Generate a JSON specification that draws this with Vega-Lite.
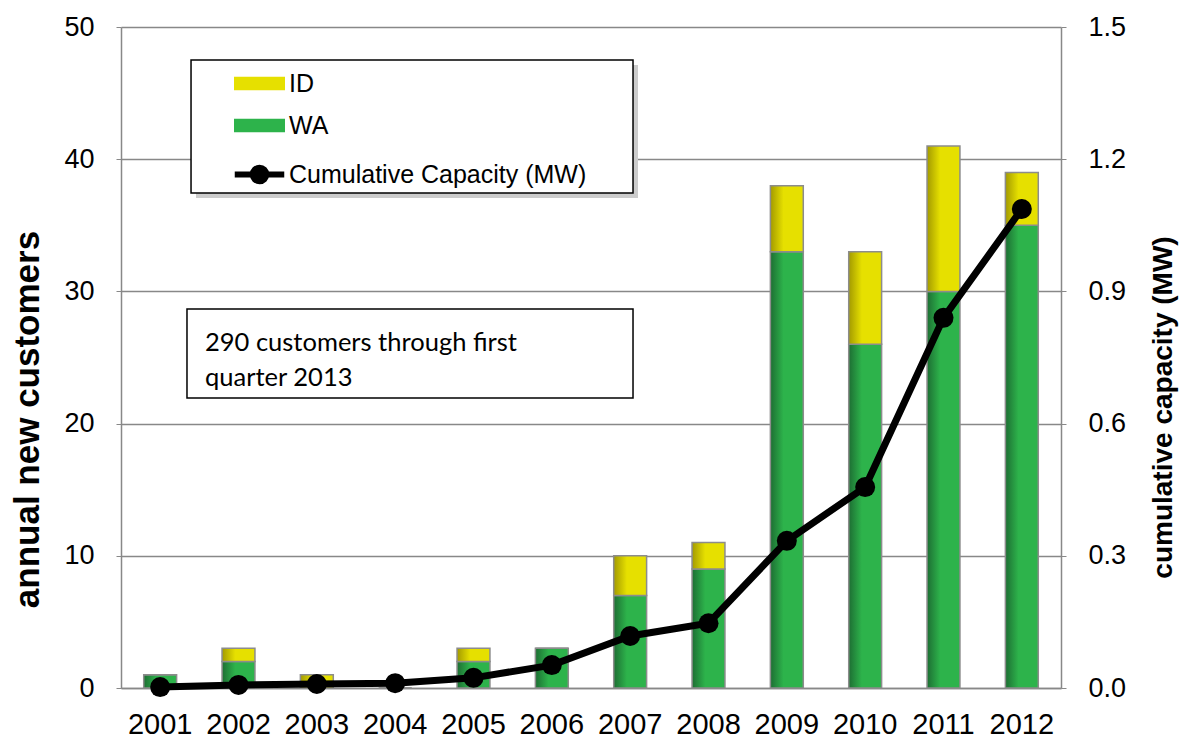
{
  "$schema": "https://vega.github.io/schema/vega-lite/v6.json",
  "width": 940,
  "height": 661,
  "autosize": "none",
  "padding": {"left": 121, "top": 27, "right": 121, "bottom": 52},
  "background": "white",
  "config": {
    "view": {"stroke": null},
    "legend": {
      "orient": "none",
      "legendX": 126,
      "legendY": 44,
      "title": null,
      "symbolSize": 2025,
      "labelFontSize": 25,
      "labelFont": "Liberation Sans",
      "labelColor": "black",
      "labelOffset": 17,
      "labelLimit": 500,
      "rowPadding": 16,
      "padding": 0
    }
  },
  "datasets": {
    "bars": [
      {"year": "2001", "series": "WA", "n": 1}, {"year": "2001", "series": "ID", "n": 0},
      {"year": "2002", "series": "WA", "n": 2}, {"year": "2002", "series": "ID", "n": 1},
      {"year": "2003", "series": "WA", "n": 0}, {"year": "2003", "series": "ID", "n": 1},
      {"year": "2004", "series": "WA", "n": 0}, {"year": "2004", "series": "ID", "n": 0},
      {"year": "2005", "series": "WA", "n": 2}, {"year": "2005", "series": "ID", "n": 1},
      {"year": "2006", "series": "WA", "n": 3}, {"year": "2006", "series": "ID", "n": 0},
      {"year": "2007", "series": "WA", "n": 7}, {"year": "2007", "series": "ID", "n": 3},
      {"year": "2008", "series": "WA", "n": 9}, {"year": "2008", "series": "ID", "n": 2},
      {"year": "2009", "series": "WA", "n": 33}, {"year": "2009", "series": "ID", "n": 5},
      {"year": "2010", "series": "WA", "n": 26}, {"year": "2010", "series": "ID", "n": 7},
      {"year": "2011", "series": "WA", "n": 30}, {"year": "2011", "series": "ID", "n": 11},
      {"year": "2012", "series": "WA", "n": 35}, {"year": "2012", "series": "ID", "n": 4}
    ],
    "cap": [
      {"year": "2001", "cap": 0.002}, {"year": "2002", "cap": 0.007},
      {"year": "2003", "cap": 0.009}, {"year": "2004", "cap": 0.011},
      {"year": "2005", "cap": 0.023}, {"year": "2006", "cap": 0.052},
      {"year": "2007", "cap": 0.118}, {"year": "2008", "cap": 0.147},
      {"year": "2009", "cap": 0.334}, {"year": "2010", "cap": 0.456},
      {"year": "2011", "cap": 0.84}, {"year": "2012", "cap": 1.087}
    ],
    "boxes": [
      {"kind": "shadow", "x1": 0.0798, "x2": 0.5500, "y1": 47.12, "y2": 37.06},
      {"kind": "box", "x1": 0.0745, "x2": 0.5447, "y1": 47.50, "y2": 37.44},
      {"kind": "box", "x1": 0.0702, "x2": 0.5447, "y1": 28.67, "y2": 21.94}
    ],
    "notes": [
      {"x": 0.0894, "y": 25.5, "label": "290 customers through first|quarter 2013"}
    ]
  },
  "layer": [
    {
      "data": {"name": "bars"},
      "mark": {"type": "bar"},
      "encoding": {
        "x": {
          "field": "year", "type": "ordinal",
          "scale": {"paddingInner": 0.58, "paddingOuter": 0.29},
          "axis": {
            "title": null, "labelAngle": 0, "labelFont": "Liberation Sans", "labelFontSize": 29,
            "labelColor": "black", "ticks": false, "domainColor": "#888888", "domainWidth": 1.5,
            "labelPadding": 22
          }
        },
        "y": {
          "field": "n", "type": "quantitative", "stack": "zero",
          "scale": {"domain": [0, 50], "nice": false},
          "axis": {
            "title": "annual new customers",
            "values": [0, 10, 20, 30, 40, 50],
            "titleFont": "Liberation Sans", "titleFontSize": 35, "titleFontWeight": "bold",
            "titleColor": "black", "titleAngle": -90, "titleBaseline": "middle", "titleAlign": "center",
            "titleX": -94, "titleY": 392,
            "labelFont": "Liberation Sans", "labelFontSize": 27, "labelColor": "black",
            "labelPadding": 22, "tickSize": 5, "tickColor": "#888888",
            "domainColor": "#888888", "domainWidth": 1.5,
            "grid": true, "gridColor": "#888888", "gridWidth": 1.3
          }
        },
        "color": {
          "field": "series", "type": "nominal",
          "scale": {"domain": ["ID", "WA", "Cumulative Capacity (MW)"], "range": ["#e6e000", "#2db34b", "black"]},
          "legend": {
            "encode": {
              "symbols": {
                "update": {
                  "shape": {"signal": "datum.value === 'Cumulative Capacity (MW)' ? 'M-1.1,0H1.1M0.3,0A0.3,0.3 0 1,1 -0.3,0A0.3,0.3 0 1,1 0.3,0' : 'M-1.1,-0.27H1.1V0.27H-1.1Z'"},
                  "stroke": {"signal": "datum.value === 'Cumulative Capacity (MW)' ? 'black' : '#8c8c8c'"},
                  "strokeWidth": {"signal": "datum.value === 'Cumulative Capacity (MW)' ? 6 : 1.5"}
                }
              }
            }
          }
        },
        "order": {"field": "series", "sort": "descending"}
      }
    },
    {
      "data": {"name": "bars"},
      "mark": {"type": "bar", "stroke": "#8c8c8c", "strokeWidth": 1.5},
      "encoding": {
        "x": {"field": "year", "type": "ordinal", "scale": {"paddingInner": 0.58, "paddingOuter": 0.29}, "axis": null},
        "y": {"field": "n", "type": "quantitative", "stack": "zero", "scale": {"domain": [0, 50], "nice": false}, "axis": null},
        "fill": {
          "condition": {
            "test": "datum.series === 'WA'",
            "value": {"gradient": "linear", "x1": 0, "x2": 1, "y1": 0, "y2": 0,
              "stops": [{"offset": 0, "color": "#1d6e33"}, {"offset": 0.4, "color": "#2db34b"}, {"offset": 1, "color": "#2db34b"}]}
          },
          "value": {"gradient": "linear", "x1": 0, "x2": 1, "y1": 0, "y2": 0,
            "stops": [{"offset": 0, "color": "#a39a00"}, {"offset": 0.4, "color": "#e6e000"}, {"offset": 1, "color": "#e6e000"}]}
        },
        "order": {"field": "series", "sort": "descending"}
      }
    },
    {
      "data": {"name": "cap"},
      "mark": {"type": "line", "strokeWidth": 7, "point": {"filled": true, "size": 400, "color": "black"}},
      "encoding": {
        "x": {"field": "year", "type": "ordinal", "scale": {"type": "point", "padding": 0.5}, "axis": null},
        "y": {
          "field": "cap", "type": "quantitative",
          "scale": {"domain": [0, 1.5], "nice": false},
          "axis": {
            "orient": "right",
            "title": "cumulative capacity (MW)",
            "values": [0, 0.3, 0.6, 0.9, 1.2, 1.5], "format": ".1f",
            "titleFont": "Liberation Sans", "titleFontSize": 28, "titleFontWeight": "bold",
            "titleColor": "black", "titleAngle": -90, "titleBaseline": "middle", "titleAlign": "center",
            "titleX": 102, "titleY": 380,
            "labelFont": "Liberation Sans", "labelFontSize": 27, "labelColor": "black",
            "labelPadding": 22, "tickSize": 5, "tickColor": "#888888",
            "domainColor": "#888888", "domainWidth": 1.5, "grid": false
          }
        },
        "color": {"datum": "Cumulative Capacity (MW)"}
      }
    },
    {
      "data": {"name": "boxes"},
      "mark": {"type": "rect", "strokeWidth": 1.5},
      "encoding": {
        "x": {"field": "x1", "type": "quantitative", "scale": {"domain": [0, 1], "nice": false, "zero": false}, "axis": null},
        "x2": {"field": "x2"},
        "y": {"field": "y1", "type": "quantitative", "scale": {"domain": [0, 50], "nice": false}, "axis": null},
        "y2": {"field": "y2"},
        "fill": {"condition": {"test": "datum.kind === 'shadow'", "value": "#cccccc"}, "value": "white"},
        "stroke": {"condition": {"test": "datum.kind === 'shadow'", "value": null}, "value": "black"}
      }
    },
    {
      "data": {"name": "notes"},
      "mark": {"type": "text", "align": "left", "baseline": "alphabetic", "font": "Lato", "fontSize": 25.5, "lineBreak": "|", "lineHeight": 35, "color": "black"},
      "encoding": {
        "x": {"field": "x", "type": "quantitative", "scale": {"domain": [0, 1], "nice": false, "zero": false}, "axis": null},
        "y": {"field": "y", "type": "quantitative", "scale": {"domain": [0, 50], "nice": false}, "axis": null},
        "text": {"field": "label"}
      }
    }
  ],
  "resolve": {"scale": {"x": "independent", "y": "independent"}}
}
